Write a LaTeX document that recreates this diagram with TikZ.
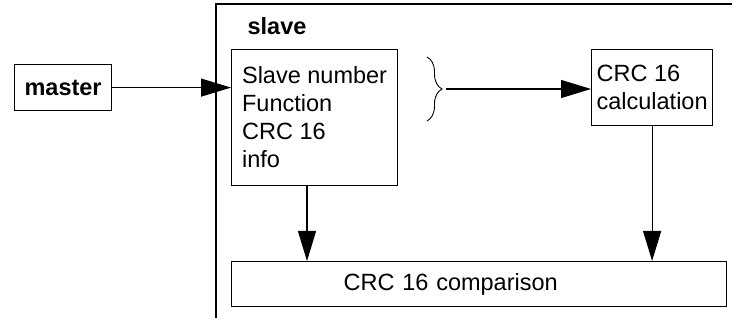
\documentclass[tikz,border=0pt]{standalone}
\usepackage{fontspec}
\setmainfont{Liberation Sans}
\usetikzlibrary{arrows.meta,decorations.pathreplacing}
\begin{document}
\begin{tikzpicture}[x=1pt,y=-1pt,
  line width=1.2pt,
  every node/.style={font=\fontsize{23.5}{28}\selectfont},
  box/.style={draw, line width=1.2pt, rectangle, anchor=north west, inner ysep=0pt, inner xsep=0pt},
  arr/.style={-{Triangle[length=30pt,width=18pt]}, line width=1.2pt}]
\useasboundingbox (0,0) rectangle (738,320);
% slave frame
\draw (216,318) coordinate (fb) -- (216,4) coordinate (ftl) -- (732,4) coordinate (ftr);
\node[anchor=base west, inner sep=0pt] (slavelbl) at (247,35) {\bfseries slave};
% boxes
\node[box, minimum width=97pt, minimum height=46pt] (master) at (14,64) {\bfseries master};
\node[box, minimum width=166pt, minimum height=136pt, align=left] (info) at (231,49)
  {Slave number\\Function\\CRC 16\\info};
\node[box, minimum width=121pt, minimum height=76pt, align=left] (calc) at (591,49)
  {CRC 16\\calculation};
\node[box, minimum width=495pt, minimum height=45pt, text width=495pt, align=left] (cmp) at (231,261)
  {\hspace*{112pt}CRC 16 comparison};
% brace
\draw[line width=0.9pt, decorate, decoration={brace, amplitude=15pt}] (427,57) -- (427,121);
\coordinate (bracetip) at (446,89);
% connectors
\draw[arr] (master.east) -- (master.east -| info.west);
\draw[arr] (bracetip) -- (bracetip -| calc.west);
\coordinate (infoout) at (307,185);
\draw[arr] (infoout) -- (infoout |- cmp.north);
\draw[arr] (calc.south) -- (calc.south |- cmp.north);
\end{tikzpicture}
\end{document}
